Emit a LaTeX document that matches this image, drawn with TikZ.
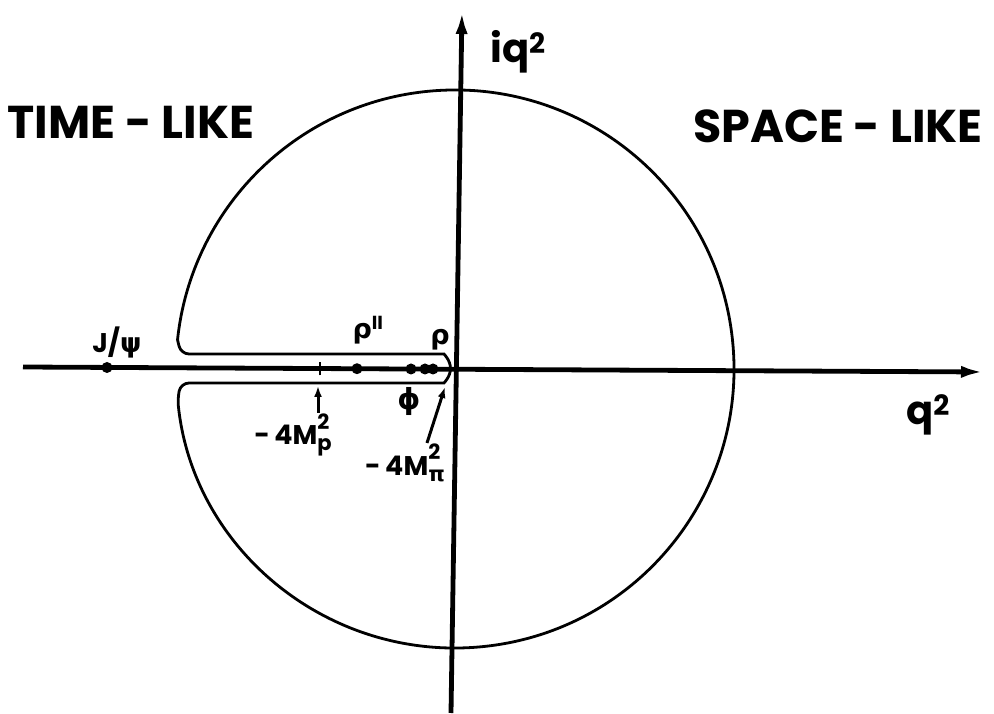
\documentclass[tikz,border=0pt]{standalone}
\usepackage{fontspec}
\setmainfont{Poppins}
\newfontfamily\grk{DejaVu Sans}
\usetikzlibrary{arrows.meta}

% stacked superscript and subscript in text mode
\newcommand{\supsub}[2]{\makebox[0pt][l]{\raisebox{0.58em}{\fontsize{21}{21}\selectfont #1}}\raisebox{-0.23em}{\fontsize{21}{21}\selectfont #2}}

\begin{document}
\begin{tikzpicture}[x=1pt,y=1pt,
  axis/.style={line width=4.8pt,-{Latex[length=24pt,width=12pt]}},
  contour/.style={line width=2.8pt},
  pointer/.style={line width=3pt,-{Latex[length=11pt,width=8pt]}},
  pole/.style={circle,fill,inner sep=0pt,minimum size=11pt},
  bigtext/.style={font=\fontsize{46}{50}\selectfont\bfseries},
  qtext/.style={font=\fontsize{40}{44}\selectfont\bfseries},
  lbl/.style={font=\fontsize{27}{29}\selectfont\bfseries,inner sep=0pt}
]
\useasboundingbox (0,0) rectangle (994,713);

\coordinate (ctr) at (455,344);
\coordinate (xstart) at (23,346);
\coordinate (xend) at (985,341);
\coordinate (ystart) at (451,0);
\coordinate (yend) at (462,703);

% circle with the cut along the time-like axis
\draw[contour] ([shift={(186:279)}]ctr) arc[start angle=186,end angle=534,radius=279]
  [rounded corners=8pt] -- (181,359) -- (436,359)
  arc[start angle=90,end angle=-90,radius=14.5] -- (181,330) -- cycle;

\draw[axis] (xstart) -- (xend);
\draw[axis] (ystart) -- (yend);

% poles on the axis
\node[pole] (jpsidot) at (107,345.5) {};
\node[pole] (rhoIIdot) at (357,344.3) {};
\node[pole] (phidot) at (411,344) {};
\node[pole] (omegadot) at (425,344) {};
\node[pole] (rhodot) at (433,344) {};

% threshold marks
\coordinate (mptick) at (320,344);
\draw[line width=2.4pt] (mptick) ++(0,-6.5) -- ++(0,13);
\coordinate (mpfoot) at (318,300);
\coordinate (mphead) at (318,327);
\draw[pointer] (mpfoot) -- (mphead);
\coordinate (mpifoot) at (427,270);
\coordinate (mpihead) at (445,326);
\draw[pointer] (mpifoot) -- (mpihead);

% labels
\node[bigtext] (timelike) at (131,591) {TIME - LIKE};
\node[bigtext] (spacelike) at (838,587) {SPACE - LIKE};
\node[qtext] (imq) at (518,661) {iq\textsuperscript{2}};
\node[qtext] (req) at (928,298) {q\textsuperscript{2}};
\node[lbl] (jpsi) at (117,371) {J/{\grk ψ}};
\node[lbl] (rhoII) at (368,383) {{\grk ρ}\textsuperscript{II}};
\node[lbl] (rho) at (440,373) {\grk ρ};
\node[lbl,font=\fontsize{29}{31}\selectfont\bfseries] (phi) at (409,311) {\grk ϕ};
\node[lbl] (mp) at (293,278) {-\,4M\supsub{2}{p}};
\node[lbl] (mpi) at (405,250) {-\,4M\supsub{2}{\grk π}};
\end{tikzpicture}
\end{document}
